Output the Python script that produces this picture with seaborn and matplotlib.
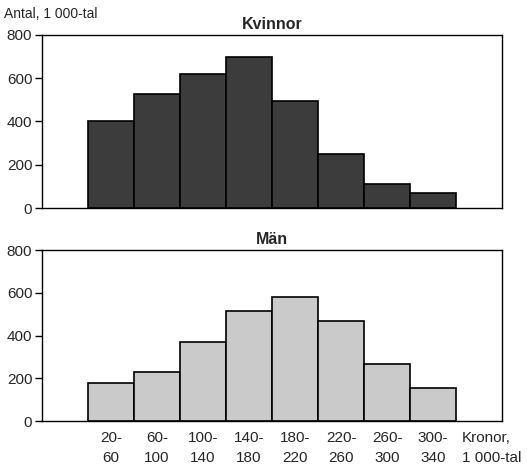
import matplotlib
matplotlib.use('Agg')
import matplotlib.pyplot as plt
import seaborn as sns

sns.set_theme(style='white')
plt.rcParams['font.family'] = ['Liberation Sans', 'DejaVu Sans']

# income classes, kronor 1 000-tal
classes = ['20-\n60', '60-\n100', '100-\n140', '140-\n180', '180-\n220',
           '220-\n260', '260-\n300', '300-\n340']
kvinnor = [400, 525, 620, 700, 495, 248, 112, 70]
man = [180, 228, 370, 515, 580, 467, 268, 155]

fig = plt.figure(figsize=(5.27, 4.69), dpi=100)
ax1 = fig.add_axes([0.0797, 0.5565, 0.873, 0.369])
ax2 = fig.add_axes([0.0797, 0.1023, 0.873, 0.3646])

for ax, vals, col, title in [(ax1, kvinnor, '#3c3c3c', 'Kvinnor'),
                             (ax2, man, '#cacaca', 'Män')]:
    sns.barplot(x=classes, y=vals, ax=ax, color=col, saturation=1,
                width=1, edgecolor='black', linewidth=1.2)
    ax.set_xlim(-1.5, 8.5)
    ax.set_ylim(0, 800)
    ax.set_yticks([0, 200, 400, 600, 800])
    ax.tick_params(axis='y', left=True, length=5, width=1, color='black',
                   labelsize=11, pad=2)
    ax.tick_params(axis='x', bottom=False, labelsize=11)
    for s in ax.spines.values():
        s.set_color('black')
        s.set_linewidth(1)
    ax.set_title(title, fontsize=11.5, fontweight='bold', pad=4)

ax1.set_xticklabels([])
ax2.tick_params(axis='x', pad=1)
for lab in ax2.get_xticklabels():
    lab.set_linespacing(1.6)

fig.text(0.008, 0.97, 'Antal, 1 000-tal', fontsize=10, va='center', ha='left')
fig.text(0.877, 0.082, 'Kronor,\n1 000-tal', fontsize=11, va='top',
         ha='left', linespacing=1.6)

fig.savefig('out.png', dpi=100)
